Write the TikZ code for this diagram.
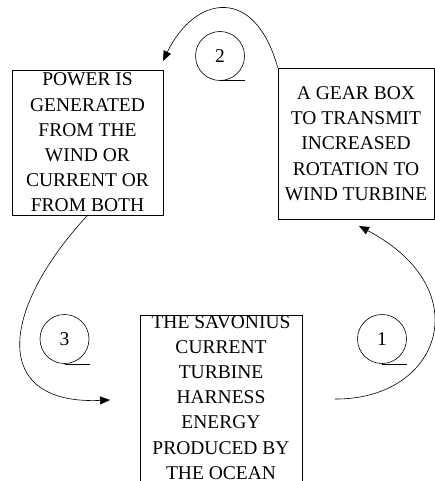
\documentclass[tikz,border=0pt]{standalone}
\usepackage{fontspec}
\setmainfont{Liberation Serif}
\usetikzlibrary{arrows.meta}
\tikzset{
  box/.style={draw, line width=0.6bp, align=center, inner sep=0pt},
  num/.style={draw, circle, line width=0.6bp, minimum size=49bp, inner sep=0pt},
  flow/.style={line width=0.6bp, -{Triangle[length=10bp,width=8bp]}}
}
\begin{document}
\begin{tikzpicture}[x=1bp, y=-1bp, node font=\fontsize{19.5bp}{25.2bp}\selectfont]
\useasboundingbox (0,0) rectangle (435,481);
% boxes
\node[box, minimum width=151bp, minimum height=145bp] (power) at (87.5,142.5) {POWER IS\\GENERATED\\FROM THE\\WIND OR\\CURRENT OR\\FROM BOTH};
\node[box, minimum width=156bp, minimum height=151bp] (gearbox) at (356,143.5) {A GEAR BOX\\TO TRANSMIT\\INCREASED\\ROTATION TO\\WIND TURBINE};
\node[align=center, inner sep=0pt, anchor=north] (savonius) at (221,315) {THE SAVONIUS\\CURRENT\\TURBINE\\HARNESS\\ENERGY\\PRODUCED BY\\THE OCEAN};
\draw[line width=0.6bp] ([xshift=-81bp]savonius.north) rectangle ++(162,190);
% step numbers
\foreach \n/\x/\y in {2/220/56, 3/64.5/339, 1/382/339}{
  \node[num] (c\n) at (\x,\y) {\n};
  \draw[line width=0.6bp] (c\n.south) -- ++(25,0);
}
% arrows
\coordinate (tip2) at (163,61);
\coordinate (tip3) at (110,400);
\coordinate (start1) at (335,399);
\coordinate (tip1) at (359,226);
\draw[flow] (gearbox.north west) .. controls (255,-15) and (195,-5) .. (tip2);
\draw[flow] (power.south) .. controls (0,310) and (-10,405) .. (tip3);
\draw[flow] (start1) .. controls (440,400) and (480,290) .. (tip1);
\end{tikzpicture}
\end{document}
